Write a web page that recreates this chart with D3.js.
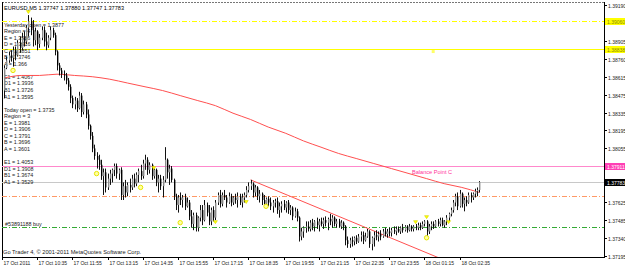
<!DOCTYPE html>
<html><head><meta charset="utf-8">
<script src="https://cdn.jsdelivr.net/npm/d3@7"></script>
<style>
body{margin:0;background:#fff;}
svg{display:block;}
text{font-family:"Liberation Sans",Arial,sans-serif;}
</style>
</head><body>
<svg id="c" width="625" height="267"></svg>
<script>
// ---------- DATA ----------
const opens=[
1.3851,1.3869,1.3875,1.3879,1.3877,1.3883,1.3879,1.3889,1.3885,1.3893,
1.3890,1.3901,1.3906,1.3899,1.3891,1.3898,1.3888,1.3893,1.3899,1.3890,
1.3887,1.3893,1.3899,1.3895,1.3882,1.3871,1.3867,1.3864,1.3863,1.3859,
1.3854,1.3845,1.3840,1.3843,1.3837,1.3847,1.3834,1.3840,1.3832,1.3823,
1.3815,1.3805,1.3799,1.3796,1.3792,1.3783,1.3786,1.3774,1.3781,1.3785,
1.3788,1.3791,1.3785,1.3788,1.3768,1.3775,1.3770,1.3776,1.3774,1.3781,
1.3777,1.3784,1.3787,1.3783,1.3793,1.3796,1.3788,1.3792,1.3783,1.3788,
1.3778,1.3781,1.3775,1.3780,1.3796,1.3786,1.3789,1.3780,1.3767,1.3760,
1.3766,1.3764,1.3766,1.3759,1.3762,1.3751,1.3745,1.3752,1.3742,1.3750,
1.3756,1.3748,1.3760,1.3754,1.3747,1.3756,1.3750,1.3762,1.3768,1.3761,
1.3768,1.3766,1.3762,1.3767,1.3762,1.3766,1.3764,1.3767,1.3762,1.3766,
1.3768,1.3772,1.3775,1.3777,1.3770,1.3774,1.3767,1.3769,1.3764,1.3761,
1.3765,1.3762,1.3759,1.3762,1.3763,1.3756,1.3759,1.3761,1.3758,1.3762,
1.3756,1.3758,1.3751,1.3755,1.3750,1.3735,1.3739,1.3742,1.3743,1.3741,
1.3746,1.3743,1.3747,1.3744,1.3747,1.3745,1.3748,1.3746,1.3749,1.3747,
1.3750,1.3745,1.3747,1.3743,1.3746,1.3743,1.3732,1.3729,1.3732,1.3731,
1.3734,1.3731,1.3735,1.3736,1.3732,1.3735,1.3739,1.3729,1.3734,1.3736,
1.3735,1.3737,1.3735,1.3739,1.3737,1.3739,1.3738,1.3740,1.3739,1.3741,
1.3739,1.3742,1.3740,1.3743,1.3740,1.3743,1.3741,1.3743,1.3742,1.3744,
1.3742,1.3745,1.3747,1.3739,1.3743,1.3745,1.3743,1.3747,1.3745,1.3748,
1.3744,1.3747,1.3750,1.3753,1.3756,1.3762,1.3767,1.3759,1.3769,1.3761,
1.3764,1.3762,1.3768,1.3766,1.3769,1.3771,1.3772];
const highs=[
1.3871,1.3878,1.3882,1.3883,1.3886,1.3886,1.3891,1.3894,1.3897,1.3898,
1.3903,1.3911,1.3909,1.3907,1.3901,1.3899,1.3896,1.3902,1.3902,1.3897,
1.3895,1.3902,1.3901,1.3897,1.3883,1.3873,1.3869,1.3867,1.3865,1.3861,
1.3856,1.3847,1.3846,1.3845,1.3850,1.3849,1.3843,1.3842,1.3836,1.3824,
1.3818,1.3808,1.3802,1.3800,1.3796,1.3789,1.3789,1.3785,1.3788,1.3789,
1.3793,1.3793,1.3789,1.3790,1.3778,1.3780,1.3778,1.3781,1.3784,1.3785,
1.3786,1.3789,1.3792,1.3796,1.3800,1.3798,1.3794,1.3793,1.3789,1.3789,
1.3784,1.3784,1.3783,1.3806,1.3797,1.3792,1.3791,1.3781,1.3769,1.3768,
1.3770,1.3768,1.3769,1.3766,1.3764,1.3756,1.3754,1.3754,1.3751,1.3760,
1.3760,1.3764,1.3762,1.3760,1.3758,1.3759,1.3764,1.3770,1.3772,1.3770,
1.3772,1.3768,1.3770,1.3769,1.3767,1.3769,1.3770,1.3769,1.3769,1.3770,
1.3775,1.3778,1.3780,1.3778,1.3776,1.3775,1.3772,1.3770,1.3768,1.3766,
1.3767,1.3766,1.3764,1.3765,1.3766,1.3762,1.3763,1.3764,1.3763,1.3764,
1.3760,1.3759,1.3758,1.3757,1.3751,1.3742,1.3743,1.3747,1.3747,1.3748,
1.3749,1.3748,1.3750,1.3749,1.3750,1.3750,1.3751,1.3750,1.3753,1.3752,
1.3751,1.3749,1.3749,1.3748,1.3747,1.3744,1.3735,1.3734,1.3735,1.3735,
1.3736,1.3737,1.3739,1.3739,1.3738,1.3741,1.3740,1.3735,1.3739,1.3740,
1.3739,1.3740,1.3741,1.3742,1.3741,1.3742,1.3742,1.3743,1.3743,1.3743,
1.3743,1.3745,1.3744,1.3744,1.3745,1.3744,1.3744,1.3745,1.3746,1.3746,
1.3747,1.3748,1.3748,1.3745,1.3747,1.3747,1.3748,1.3749,1.3750,1.3750,
1.3748,1.3752,1.3754,1.3758,1.3764,1.3769,1.3770,1.3772,1.3770,1.3766,
1.3767,1.3770,1.3770,1.3770,1.3773,1.3774,1.3779];
const lows=[
1.3845,1.3868,1.3873,1.3874,1.3870,1.3875,1.3878,1.3881,1.3883,1.3886,
1.3888,1.3894,1.3895,1.3886,1.3887,1.3883,1.3885,1.3891,1.3886,1.3883,
1.3885,1.3891,1.3893,1.3879,1.3867,1.3863,1.3861,1.3859,1.3856,1.3851,
1.3841,1.3837,1.3836,1.3834,1.3836,1.3830,1.3832,1.3829,1.3820,1.3812,
1.3802,1.3796,1.3789,1.3788,1.3780,1.3768,1.3770,1.3772,1.3776,1.3778,
1.3783,1.3781,1.3780,1.3764,1.3764,1.3766,1.3767,1.3770,1.3772,1.3774,
1.3775,1.3778,1.3780,1.3781,1.3788,1.3784,1.3785,1.3780,1.3781,1.3775,
1.3770,1.3772,1.3766,1.3778,1.3781,1.3776,1.3778,1.3764,1.3756,1.3754,
1.3760,1.3758,1.3756,1.3758,1.3748,1.3742,1.3740,1.3739,1.3739,1.3747,
1.3744,1.3747,1.3751,1.3744,1.3744,1.3747,1.3748,1.3760,1.3758,1.3759,
1.3764,1.3758,1.3761,1.3759,1.3760,1.3761,1.3758,1.3760,1.3758,1.3762,
1.3766,1.3770,1.3772,1.3766,1.3767,1.3764,1.3762,1.3760,1.3758,1.3758,
1.3759,1.3756,1.3754,1.3758,1.3753,1.3750,1.3754,1.3756,1.3754,1.3753,
1.3752,1.3748,1.3750,1.3747,1.3731,1.3732,1.3734,1.3738,1.3739,1.3739,
1.3740,1.3739,1.3741,1.3739,1.3743,1.3741,1.3743,1.3740,1.3744,1.3742,
1.3743,1.3742,1.3742,1.3741,1.3740,1.3728,1.3726,1.3726,1.3727,1.3728,
1.3729,1.3730,1.3731,1.3729,1.3731,1.3734,1.3726,1.3724,1.3727,1.3732,
1.3731,1.3732,1.3734,1.3735,1.3734,1.3735,1.3735,1.3737,1.3736,1.3738,
1.3737,1.3738,1.3739,1.3738,1.3739,1.3739,1.3739,1.3740,1.3740,1.3740,
1.3741,1.3743,1.3735,1.3737,1.3740,1.3741,1.3742,1.3743,1.3743,1.3743,
1.3742,1.3744,1.3747,1.3751,1.3754,1.3759,1.3756,1.3758,1.3758,1.3755,
1.3759,1.3761,1.3762,1.3764,1.3766,1.3767,1.3770];
const closes=[
1.3869,1.3875,1.3879,1.3877,1.3883,1.3879,1.3889,1.3885,1.3893,1.3890,
1.3901,1.3906,1.3899,1.3891,1.3898,1.3888,1.3893,1.3899,1.3890,1.3887,
1.3893,1.3899,1.3895,1.3882,1.3871,1.3867,1.3864,1.3863,1.3859,1.3854,
1.3845,1.3840,1.3843,1.3837,1.3847,1.3834,1.3840,1.3832,1.3823,1.3815,
1.3805,1.3799,1.3796,1.3792,1.3783,1.3786,1.3774,1.3781,1.3785,1.3788,
1.3791,1.3785,1.3788,1.3768,1.3775,1.3770,1.3776,1.3774,1.3781,1.3777,
1.3784,1.3787,1.3783,1.3793,1.3796,1.3788,1.3792,1.3783,1.3788,1.3778,
1.3781,1.3775,1.3780,1.3796,1.3786,1.3789,1.3780,1.3767,1.3760,1.3766,
1.3764,1.3766,1.3759,1.3762,1.3751,1.3745,1.3752,1.3742,1.3750,1.3756,
1.3748,1.3760,1.3754,1.3747,1.3756,1.3750,1.3762,1.3768,1.3761,1.3768,
1.3766,1.3762,1.3767,1.3762,1.3766,1.3764,1.3767,1.3762,1.3766,1.3768,
1.3772,1.3775,1.3777,1.3770,1.3774,1.3767,1.3769,1.3764,1.3761,1.3765,
1.3762,1.3759,1.3762,1.3763,1.3756,1.3759,1.3761,1.3758,1.3762,1.3756,
1.3758,1.3751,1.3755,1.3750,1.3735,1.3739,1.3742,1.3743,1.3741,1.3746,
1.3743,1.3747,1.3744,1.3747,1.3745,1.3748,1.3746,1.3749,1.3747,1.3750,
1.3745,1.3747,1.3743,1.3746,1.3743,1.3732,1.3729,1.3732,1.3731,1.3734,
1.3731,1.3735,1.3736,1.3732,1.3735,1.3739,1.3729,1.3734,1.3736,1.3735,
1.3737,1.3735,1.3739,1.3737,1.3739,1.3738,1.3740,1.3739,1.3741,1.3739,
1.3742,1.3740,1.3743,1.3740,1.3743,1.3741,1.3743,1.3742,1.3744,1.3742,
1.3745,1.3747,1.3739,1.3743,1.3745,1.3743,1.3747,1.3745,1.3748,1.3744,
1.3747,1.3750,1.3753,1.3756,1.3762,1.3767,1.3759,1.3769,1.3761,1.3764,
1.3762,1.3768,1.3766,1.3769,1.3771,1.3772,1.37783];

// moving average, read at every 8th bar
const maBars=[0,8,16,24,32,40,48,56,64,72,80,88,96,104,112,120,128,136,144,152,160,168,176,184,192,200,208,216];
const maValues=[1.3861,1.3863,1.3863,1.3864,1.3863,1.3862,1.3860,1.3857,1.3854,1.3851,1.3847,1.3843,1.3839,1.3833,1.3828,1.3822,1.3817,1.3811,1.3806,1.3801,1.3797,1.3793,1.3789,1.3785,1.3781,1.3777,1.3774,1.3770];

// down trendline anchors
const trendBars=[112,170];
const trendPrices=[1.3780,1.3738];

// horizontal levels
const levelNames=["yesterdayHigh","yesterdayOpenLine","balanceC","bid","orderSL","orderBuy"];
const levelPrices=[1.39060,1.38838,1.37911,1.37783,1.37672,1.37423];
const levelLabels=["1.39060","1.38838","1.37911","1.37783","",""];

// fractal-like markers
const arrowBars=[11,68,96,110,187,192,202];
const arrowPrices=[1.3913,1.3789,1.3746,1.3762,1.3746,1.3750,1.3746];
const circleBars=[4,42,62,80,119,192];
const circlePrices=[1.3867,1.3785,1.3774,1.3746,1.3759,1.3734];
const dotBars=[195];
const dotPrices=[1.3882];

// axes
const priceTicks=[1.39190,1.39050,1.38905,1.38760,1.38615,1.38475,1.38335,1.38195,1.38055,1.37910,1.37765,1.37625,1.37485,1.37340,1.37195];
const timeTickBars=[-1,15,31,47,63,79,95,111,127,143,159,175,191,207];
const timeLabels=["17 Oct 2011","17 Oct 10:35","17 Oct 11:55","17 Oct 13:15","17 Oct 14:35","17 Oct 15:55","17 Oct 17:15","17 Oct 18:35","17 Oct 19:55","17 Oct 21:15","17 Oct 22:35","17 Oct 23:55","18 Oct 01:15","18 Oct 02:35"];

// texts
const headerText="EURUSD,M5  1.37747 1.37880 1.37747 1.37783";
const infoLines=["Yesterday open = 1.3877","Region = 4","E = 1.3986","D = 1.3916","C = 1.3851","B = 1.3746","A = 1.366","",
"E1 = 1.4067","D1 = 1.3936","B1 = 1.3726","A1 = 1.3595","",
"Today open = 1.3735","Region = 3","E = 1.3981","D = 1.3906","C = 1.3791","B = 1.3696","A = 1.3601","",
"E1 = 1.4053","D1 = 1.3908","B1 = 1.3674","A1 = 1.3529"];
const balanceText="Balance Point C";
const orderText="#53891188 buy";
const copyrightText="Go Trader 4, \u00A9 2001-2011 MetaQuotes Software Corp.";

// ---------- DRAW ----------
const svg=d3.select("#c");
const L=2,T=2,R=604,B=257;
const x=d3.scaleLinear().domain([-1,216]).range([2,479.4]);
const y=d3.scaleLinear().domain([1.39190,1.37195]).range([5,256]);

svg.append("rect").attr("width",625).attr("height",267).attr("fill","#fff");
svg.append("clipPath").attr("id","pc").append("rect").attr("x",L).attr("y",T).attr("width",R-L).attr("height",B-T);

// frame
svg.append("line").attr("x1",L).attr("x2",R).attr("y1",T+0.5).attr("y2",T+0.5).attr("stroke","#777").attr("stroke-dasharray","2,1");
svg.append("line").attr("x1",L+0.5).attr("x2",L+0.5).attr("y1",T).attr("y2",B).attr("stroke","#000");
svg.append("line").attr("x1",L).attr("x2",R).attr("y1",B+0.5).attr("y2",B+0.5).attr("stroke","#000");
svg.append("line").attr("x1",R+0.5).attr("x2",R+0.5).attr("y1",T).attr("y2",B+1).attr("stroke","#000");

const g=svg.append("g").attr("clip-path","url(#pc)");

// levels
const levelStyle={
 yesterdayHigh:{c:"#ffff00",d:"5,2,1,2"},
 yesterdayOpenLine:{c:"#ffff00",d:null},
 balanceC:{c:"#ff88cc",d:null},
 bid:{c:"#c8c8c8",d:null},
 orderSL:{c:"#ff9966",d:"5,2,1,2"},
 orderBuy:{c:"#33aa33",d:"5,2,1,2"}
};
levelPrices.forEach((p,i)=>{
  const s=levelStyle[levelNames[i]];
  const yy=Math.round(y(p))+0.5;
  g.append("line").attr("x1",L).attr("x2",R).attr("y1",yy).attr("y2",yy)
   .attr("stroke",s.c).attr("stroke-width",1).attr("stroke-dasharray",s.d);
});

// info text (drawn beneath the price bars, as in the reference)
infoLines.forEach((t,i)=>{
  if(!t) return;
  svg.append("text").attr("x",4).attr("y",26.5+i*6.55).attr("font-size",5.4).attr("fill","#222").text(t);
});
svg.append("text").attr("x",5).attr("y",226).attr("font-size",5.4).attr("fill","#222").text(orderText);

const g2=svg.append("g").attr("clip-path","url(#pc)");

// MA
const maLine=d3.line().x((d,i)=>x(maBars[i])).y(d=>y(d)).curve(d3.curveMonotoneX);
g2.append("path").attr("d",maLine(maValues)).attr("fill","none").attr("stroke","#ff5050").attr("stroke-width",1);

// trendline (ray)
const x0=x(trendBars[0]),y0=y(trendPrices[0]),x1=x(trendBars[1]),y1=y(trendPrices[1]);
const slope=(y1-y0)/(x1-x0);
g2.append("line").attr("x1",x0).attr("y1",y0).attr("x2",R).attr("y2",y0+slope*(R-x0))
 .attr("stroke","#ff5050").attr("stroke-width",1);

// candles
const cg=g2.append("g");
opens.forEach((o,i)=>{
  const c=closes[i];
  const xc=Math.round(x(i))+0.5;
  cg.append("line").attr("x1",xc).attr("x2",xc).attr("y1",y(highs[i])).attr("y2",y(lows[i]))
    .attr("stroke","#111").attr("stroke-width",1);
  const top=y(Math.max(o,c)),bot=y(Math.min(o,c));
  cg.append("rect").attr("x",xc-0.5).attr("width",1.4).attr("y",top).attr("height",Math.max(0.8,bot-top))
    .attr("fill",c>=o?"#8a8a8a":"#000");
});

// markers
arrowBars.forEach((b,i)=>{
  const cx=x(b),cy=y(arrowPrices[i]);
  g2.append("path").attr("d",`M${cx-2},${cy-2}L${cx+2},${cy-2}L${cx},${cy+1}Z`)
   .attr("fill","#ffff00").attr("stroke","#d8d800").attr("stroke-width",0.6);
});
circleBars.forEach((b,i)=>{
  g2.append("circle").attr("cx",x(b)).attr("cy",y(circlePrices[i])).attr("r",2.2)
   .attr("fill","#ffffa0").attr("stroke","#e6e600").attr("stroke-width",1);
});
dotBars.forEach((b,i)=>{
  g2.append("rect").attr("x",x(b)-1.5).attr("y",y(dotPrices[i])-1.5).attr("width",3).attr("height",3).attr("fill","#ffff66");
});

// texts in chart
svg.append("text").attr("x",4).attr("y",10).attr("font-size",5.6).attr("fill","#000").text(headerText);
svg.append("text").attr("x",412).attr("y",174).attr("font-size",5.6).attr("fill","#ff3399").text(balanceText);
svg.append("text").attr("x",3).attr("y",254).attr("font-size",5.7).attr("fill","#222").text(copyrightText);

// price axis
const labeledLevelYs=levelPrices.filter((p,i)=>levelLabels[i]).map(p=>y(p));
priceTicks.forEach(p=>{
  const yy=Math.round(y(p))+0.5;
  svg.append("line").attr("x1",R).attr("x2",R+3).attr("y1",yy).attr("y2",yy).attr("stroke","#000");
  const hidden=labeledLevelYs.some(ly=>Math.abs(ly-y(p))<2.6);
  if(!hidden) svg.append("text").attr("x",R+4).attr("y",yy+2).attr("font-size",5).attr("fill","#222").text(p.toFixed(5));
});
// level labels
const labelFill={yesterdayHigh:"#ffff00",yesterdayOpenLine:"#ffff00",balanceC:"#ff3fb4",bid:"#000"};
const labelText={yesterdayHigh:"#888800",yesterdayOpenLine:"#888800",balanceC:"#fff",bid:"#fff"};
levelPrices.forEach((p,i)=>{
  if(!levelLabels[i]) return;
  const n=levelNames[i];
  const yy=Math.round(y(p))+0.5;
  svg.append("rect").attr("x",R+1).attr("y",yy-3.5).attr("width",20).attr("height",7).attr("fill",labelFill[n]);
  svg.append("text").attr("x",R+3).attr("y",yy+2).attr("font-size",5).attr("fill",labelText[n]).text(levelLabels[i]);
});

// time axis
timeTickBars.forEach((b,i)=>{
  const xx=Math.round(x(b))+0.5;
  svg.append("line").attr("x1",xx).attr("x2",xx).attr("y1",B).attr("y2",B+3).attr("stroke","#000");
  svg.append("text").attr("x",xx+1).attr("y",265).attr("font-size",5).attr("fill","#222").text(timeLabels[i]);
});
</script>
</body></html>
